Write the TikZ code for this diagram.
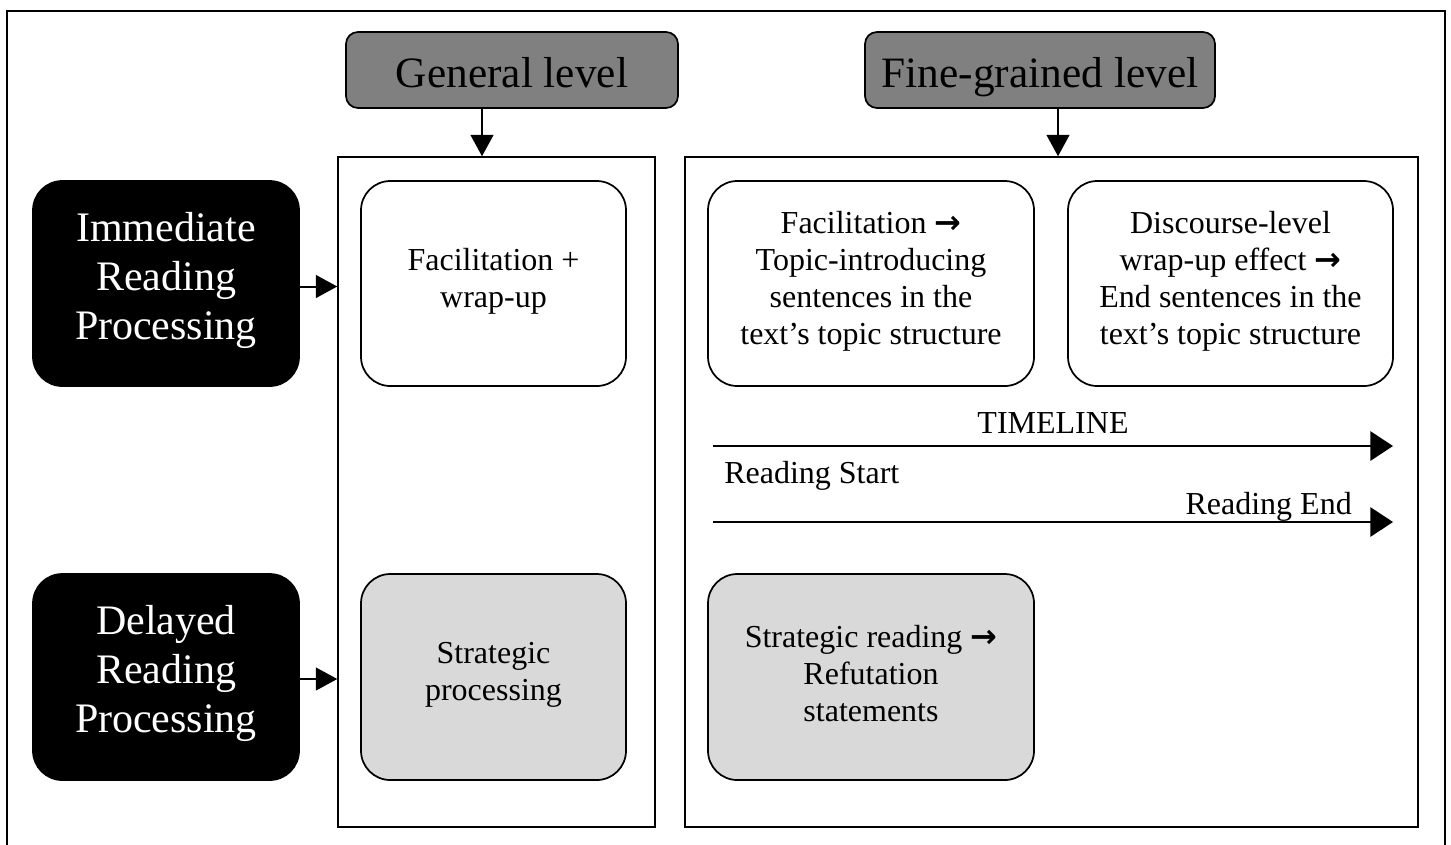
\documentclass[tikz,border=0pt]{standalone}
\usepackage{fontspec}
\setmainfont{Liberation Serif}
\newfontfamily\arrfont{DejaVu Sans}
\newcommand{\rarr}{{\arrfont\bfseries →}}
\newcommand{\liftlines}[2]{\raisebox{#1}[\height][\depth]{\begin{tabular}{@{}c@{}}#2\end{tabular}}}
\usetikzlibrary{arrows.meta,calc}
\definecolor{hdrgray}{HTML}{808080}
\definecolor{lightg}{HTML}{D9D9D9}
\begin{document}
\begin{tikzpicture}[x=0.75pt,y=-0.75pt,
  arr/.style={line width=1.5pt,-{Triangle[length=16pt,width=17pt]}},
  tarr/.style={line width=1.5pt,-{Triangle[length=17pt,width=22pt]}},
  panel/.style={draw,line width=1.1pt,rectangle,inner sep=0pt},
  rbox/.style={draw,line width=1.3pt,rounded corners=22pt,align=center,
    minimum width=265*0.75pt,minimum height=205*0.75pt,inner sep=0pt,
    font=\fontsize{24pt}{27.7pt}\selectfont},
  wbox/.style={rbox,minimum width=326*0.75pt},
  bbox/.style={rbox,fill=black,text=white,minimum width=266*0.75pt,
    font=\fontsize{31.5pt}{36.8pt}\selectfont},
  hdr/.style={draw,line width=1.3pt,rounded corners=9pt,fill=hdrgray,
    minimum height=76*0.75pt,inner sep=0pt,text height=27pt,text depth=1.5pt,
    font=\fontsize{32.5pt}{38pt}\selectfont},
  lbl/.style={inner sep=0pt,font=\fontsize{24pt}{27.7pt}\selectfont}]
\useasboundingbox (0,0) rectangle (1451,844);
% outer frame
\draw[line width=1.6pt] (7,860) -- (7,11) -- (1445,11) -- (1445,860);
% panels
\node[panel,minimum width=317*0.75pt,minimum height=670*0.75pt] (lp) at (496.5,492) {};
\node[panel,minimum width=733*0.75pt,minimum height=670*0.75pt] (rp) at (1051.5,492) {};
% headers
\node[hdr,minimum width=332*0.75pt] (gen) at (512,70) {General level};
\node[hdr,minimum width=350*0.75pt] (fine) at (1040,70) {Fine-grained level};
\draw[arr] ($(gen.south)+(-30,0)$) -- ($(lp.north)+(-14.5,0)$);
\draw[arr] ($(fine.south)+(18,0)$) -- ($(rp.north)+(6.5,0)$);
% left black boxes
\node[bbox] (imm) at (166,283.5) {\liftlines{2.25pt}{Immediate\\Reading\\Processing}};
\node[bbox,minimum height=206*0.75pt] (del) at (166,677) {\liftlines{2.25pt}{Delayed\\Reading\\Processing}};
\draw[arr] ($(imm.east)+(0,3)$) -- ($(imm.east -| lp.west)+(0,3)$);
\draw[arr] ($(del.east)+(0,2)$) -- ($(del.east -| lp.west)+(0,2)$);
% general level boxes
\node[rbox] (fw) at (493.5,283.5) {\liftlines{1.5pt}{Facilitation +\\wrap-up}};
\node[rbox,fill=lightg,minimum height=206*0.75pt] (sp) at (493.5,677) {\liftlines{1.5pt}{Strategic\\processing}};
% fine-grained boxes
\node[wbox] (topic) at (871,283.5) {\liftlines{1.5pt}{Facilitation \rarr\\Topic-introducing\\sentences in the\\text’s topic structure}};
\node[wbox,minimum width=325*0.75pt] (disc) at (1230.5,283.5) {\liftlines{1.5pt}{Discourse-level\\wrap-up effect \rarr\\End sentences in the\\text’s topic structure}};
\node[wbox,fill=lightg,minimum height=206*0.75pt] (sr) at (871,677) {\liftlines{0pt}{Strategic reading \rarr\\Refutation\\statements}};
% timeline
\coordinate (t1s) at (713,446);
\coordinate (t1e) at (1393,446);
\coordinate (t2s) at (713,522);
\coordinate (t2e) at (1393,522);
\draw[tarr] (t1s) -- (t1e);
\draw[tarr] (t2s) -- (t2e);
\node[lbl,anchor=base] (tl) at (1053,433) {TIMELINE};
\node[lbl,anchor=base west] (rs) at (724,483) {Reading Start};
\node[lbl,anchor=base east] (re) at (1352,514) {Reading End};
\end{tikzpicture}
\end{document}
